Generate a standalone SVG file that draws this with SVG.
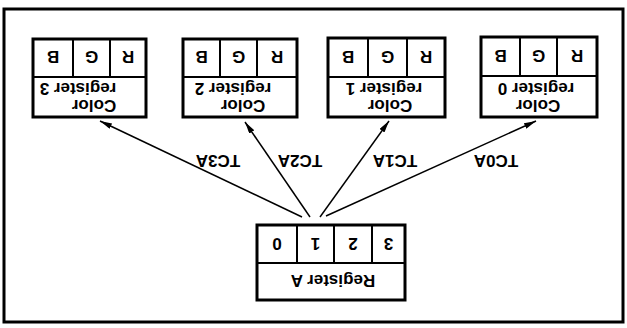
<svg xmlns="http://www.w3.org/2000/svg" width="627" height="328" viewBox="0 0 627 328">
<style>
.box{fill:#fff;stroke:#000;stroke-width:3}
.div{stroke:#000;stroke-width:2;fill:none}
.t{font-family:"Liberation Sans",Arial,sans-serif;font-size:17px;font-weight:bold;fill:#000;text-anchor:middle}
.c{stroke:#000;stroke-width:1.5;fill:none;marker-end:url(#ah)}
</style>
<defs>
<marker id="ah" viewBox="0 0 12 6" refX="12" refY="3" markerWidth="12" markerHeight="6" markerUnits="userSpaceOnUse" orient="auto">
<path d="M0,0 L12,3 L0,6 Z" fill="#000"/>
</marker>
</defs>
<rect x="4" y="9" width="619" height="313" fill="#fff" stroke="#000" stroke-width="3"/>

<g id="color-register-3">
<rect class="box" x="33" y="39" width="113" height="78"/>
<path class="div" d="M33,77 H146 M73,39 V77 M110,39 V77"/>
<text class="t" x="53" y="63" transform="rotate(180 53 57)">B</text>
<text class="t" x="91.5" y="63" transform="rotate(180 91.5 57)">G</text>
<text class="t" x="128" y="63" transform="rotate(180 128 57)">R</text>
<text class="t" x="78" y="93" transform="rotate(180 78 88)">register 3</text>
<text class="t" x="94" y="110" transform="rotate(180 94 105)">Color</text>
</g>

<g id="color-register-2">
<rect class="box" x="183" y="39" width="114" height="78"/>
<path class="div" d="M183,77 H297 M220,39 V77 M257,39 V77"/>
<text class="t" x="201.5" y="63" transform="rotate(180 201.5 57)">B</text>
<text class="t" x="238.5" y="63" transform="rotate(180 238.5 57)">G</text>
<text class="t" x="277" y="63" transform="rotate(180 277 57)">R</text>
<text class="t" x="233" y="93" transform="rotate(180 233 88)">register 2</text>
<text class="t" x="243" y="110" transform="rotate(180 243 105)">Color</text>
</g>

<g id="color-register-1">
<rect class="box" x="328" y="38" width="117" height="79"/>
<path class="div" d="M328,77 H445 M368,38 V77 M407,38 V77"/>
<text class="t" x="348" y="63" transform="rotate(180 348 57)">B</text>
<text class="t" x="387.5" y="63" transform="rotate(180 387.5 57)">G</text>
<text class="t" x="426" y="63" transform="rotate(180 426 57)">R</text>
<text class="t" x="384" y="93" transform="rotate(180 384 88)">register 1</text>
<text class="t" x="390" y="110" transform="rotate(180 390 105)">Color</text>
</g>

<g id="color-register-0">
<rect class="box" x="481" y="37" width="116" height="80"/>
<path class="div" d="M481,76 H597 M520,37 V76 M557,37 V76"/>
<text class="t" x="500.5" y="62" transform="rotate(180 500.5 56)">B</text>
<text class="t" x="538.5" y="62" transform="rotate(180 538.5 56)">G</text>
<text class="t" x="577" y="62" transform="rotate(180 577 56)">R</text>
<text class="t" x="536" y="93" transform="rotate(180 536 88)">register 0</text>
<text class="t" x="538" y="110" transform="rotate(180 538 105)">Color</text>
</g>

<g id="register-a">
<rect class="box" x="257" y="225" width="148" height="75"/>
<path class="div" d="M257,263 H405 M297,225 V263 M334,225 V263 M372,225 V263"/>
<text class="t" x="277" y="250" transform="rotate(180 277 244)">0</text>
<text class="t" x="315.5" y="250" transform="rotate(180 315.5 244)">1</text>
<text class="t" x="353" y="250" transform="rotate(180 353 244)">2</text>
<text class="t" x="388.5" y="250" transform="rotate(180 388.5 244)">3</text>
<text class="t" x="333" y="287" transform="rotate(180 333 281)">Register A</text>
</g>

<g id="connectors">
<line class="c" x1="302" y1="217" x2="100" y2="121"/>
<line class="c" x1="310" y1="217" x2="245" y2="122"/>
<line class="c" x1="320" y1="217" x2="389" y2="121"/>
<line class="c" x1="326" y1="216" x2="536" y2="121"/>
<text class="t" x="218" y="167" transform="rotate(180 218 161)">TC3A</text>
<text class="t" x="300" y="167" transform="rotate(180 300 161)">TC2A</text>
<text class="t" x="395" y="167" transform="rotate(180 395 161)">TC1A</text>
<text class="t" x="496" y="167" transform="rotate(180 496 161)">TC0A</text>
</g>
</svg>
